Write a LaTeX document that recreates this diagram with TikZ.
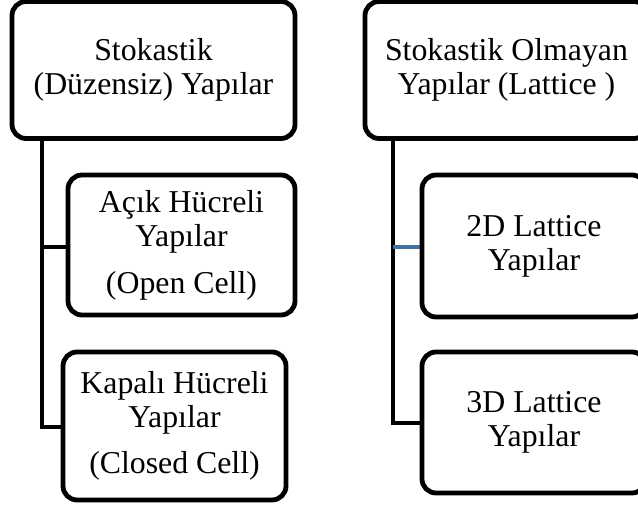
\documentclass[tikz,border=0pt]{standalone}
\usepackage{fontspec}
\setmainfont{Liberation Serif}
\usetikzlibrary{shadows}
\definecolor{branchblue}{RGB}{68,114,160}
\tikzset{
  box/.style={draw=black, line width=4.8pt, rounded corners=14pt, fill=white,
    align=center, inner sep=0pt, font=\fontsize{31.8}{34}\selectfont,
    drop shadow={shadow xshift=1.5pt, shadow yshift=-1.5pt, opacity=0.25}},
  conn/.style={draw=black, line width=4.3pt, line join=miter},
}
\begin{document}
\begin{tikzpicture}[x=1pt,y=-1pt]
\useasboundingbox (0,0) rectangle (638,513);
\clip (0,0) rectangle (638,513);
\coordinate (lv) at (42,138);
\coordinate (rv) at (393,138);
\node[box, minimum width=283pt, minimum height=137pt] (tl) at (153.5,70) {Stokastik\\(Düzensiz) Yapılar};
\node[box, minimum width=283pt, minimum height=137pt] (tr) at (506.5,70) {Stokastik Olmayan\\Yapılar (Lattice )};
\draw[conn] (lv) |- (170,427) coordinate (lcb);
\draw[conn] (lv) |- (170,247) coordinate (lob);
\draw[conn] (rv) |- (470,423) coordinate (rcb);
\draw[conn] (rv) -- (393,247) coordinate (rob);
\draw[line width=4pt, draw=branchblue] (rob) -- (470,247);
\node[box, minimum width=227pt, minimum height=140pt] (open) at (181.5,245) {Açık Hücreli\\Yapılar\\[13pt](Open Cell)};
\node[box, minimum width=223pt, minimum height=148pt] (closed) at (174.5,426) {Kapalı Hücreli\\Yapılar\\[12pt](Closed Cell)};
\node[box, minimum width=224pt, minimum height=142pt] (d2) at (534,246) {2D Lattice\\Yapılar};
\node[box, minimum width=224pt, minimum height=141pt] (d3) at (534,422.5) {3D Lattice\\Yapılar};
\end{tikzpicture}
\end{document}
